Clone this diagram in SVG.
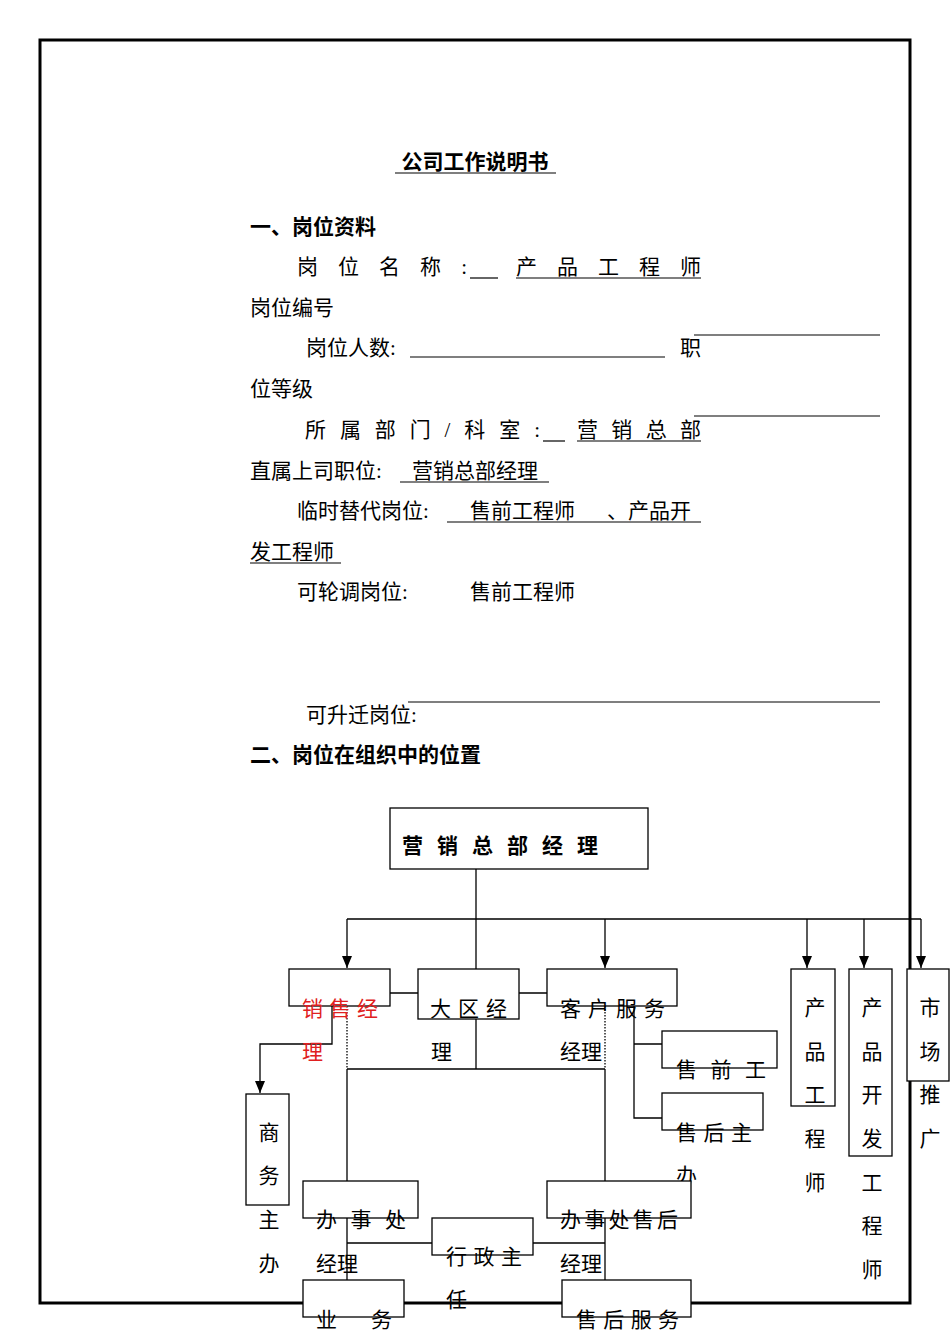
<svg xmlns="http://www.w3.org/2000/svg" width="950" height="1344" viewBox="0 0 950 1344">
<style>
text{font-family:"Liberation Serif","Noto Sans CJK SC",serif;font-size:21px;fill:#000}
.b{font-weight:bold;font-family:"Noto Sans CJK SC",sans-serif}
.bx{fill:#fff;stroke:#000;stroke-width:1.3}
.ln{stroke:#000;stroke-width:1.3;fill:none}
.u{stroke:#000;stroke-width:1.2}
.c{text-anchor:middle}
</style>
<defs><marker id="ar" markerWidth="10" markerHeight="10" refX="5" refY="9" orient="auto" markerUnits="userSpaceOnUse"><path d="M0,0 L10,0 L5,10Z" transform="rotate(-90 5 5)"/></marker>
<marker id="a" markerWidth="12" markerHeight="12" refX="6" refY="12" markerUnits="userSpaceOnUse" orient="0"><path d="M1,0 L11,0 L6,12Z"/></marker></defs>
<rect width="950" height="1344" fill="#fff"/>
<rect x="40" y="40" width="870" height="1263" fill="none" stroke="#000" stroke-width="3"/>
<g id="text">
<text x="475" y="169" class="b c" font-size="20">公司工作说明书</text>
<line x1="395" y1="173" x2="556" y2="173" class="u"/>
<text x="250" y="234" class="b">一、岗位资料</text>
<text x="297" y="274" textLength="170">岗 位 名 称 :</text>
<line x1="470" y1="278" x2="498" y2="278" class="u"/>
<text x="516" y="274" textLength="185">产 品 工 程 师</text>
<line x1="516" y1="278" x2="701" y2="278" class="u"/>
<text x="250" y="315">岗位编号</text>
<line x1="694" y1="335" x2="880" y2="335" class="u"/>
<text x="306" y="355">岗位人数:</text>
<line x1="410" y1="357" x2="665" y2="357" class="u"/>
<text x="680" y="355">职</text>
<text x="250" y="396">位等级</text>
<line x1="694" y1="416" x2="880" y2="416" class="u"/>
<text x="305" y="437" textLength="235">所 属 部 门 / 科 室 :</text>
<line x1="543" y1="441" x2="565" y2="441" class="u"/>
<text x="577" y="437" textLength="124">营 销 总 部</text>
<line x1="577" y1="441" x2="701" y2="441" class="u"/>
<text x="250" y="478">直属上司职位:</text>
<text x="412" y="478">营销总部经理</text>
<line x1="400" y1="482" x2="549" y2="482" class="u"/>
<text x="297" y="518">临时替代岗位:</text>
<text x="470" y="518">售前工程师</text>
<text x="607" y="518">、产品开</text>
<line x1="447" y1="522" x2="701" y2="522" class="u"/>
<text x="250" y="559">发工程师</text>
<line x1="250" y1="563" x2="341" y2="563" class="u"/>
<text x="297" y="599">可轮调岗位:</text>
<text x="470" y="599">售前工程师</text>
<line x1="408" y1="702" x2="880" y2="702" class="u"/>
<text x="306" y="722">可升迁岗位:</text>
<text x="250" y="762" class="b">二、岗位在组织中的位置</text>
</g>
<g id="connectors">
<path class="ln" d="M476,869 V969 M347,919 H921"/>
<path class="ln" d="M347,919 V968" marker-end="url(#a)"/>
<path class="ln" d="M605,919 V968" marker-end="url(#a)"/>
<path class="ln" d="M807,919 V968" marker-end="url(#a)"/>
<path class="ln" d="M864,919 V968" marker-end="url(#a)"/>
<path class="ln" d="M921,919 V968" marker-end="url(#a)"/>
<path class="ln" d="M390,993 H418 M519,993 H547"/>
<path class="ln" d="M332,1006 V1044 H260 V1093" marker-end="url(#a)"/>
<path class="ln" d="M347,1006 V1069" stroke-dasharray="1.5,1.5"/>
<path class="ln" d="M605,1006 V1069" stroke-dasharray="1.5,1.5"/>
<path class="ln" d="M347,1069 H605 M476,1019 V1069 M347,1069 V1181 M605,1069 V1181"/>
<path class="ln" d="M634,1006 V1118 H662 M634,1044 H662"/>
<path class="ln" d="M347,1218 V1280 M605,1218 V1280 M347,1243 H432 M533,1243 H605"/>
</g>
<g id="n-top"><rect class="bx" x="390" y="808" width="258" height="61"/><text x="402" y="853" class="b" textLength="196">营 销 总 部 经 理</text></g>
<g id="n-sales"><rect class="bx" x="289" y="969" width="101" height="37"/><text x="302" y="1016" fill="#e02020" style="fill:#e02020" textLength="76">销售经</text><text x="302" y="1059" style="fill:#e02020">理</text></g>
<g id="n-region"><rect class="bx" x="418" y="969" width="101" height="50"/><text x="430" y="1016" textLength="77">大区经</text><text x="431" y="1059">理</text></g>
<g id="n-cs"><rect class="bx" x="547" y="969" width="130" height="37"/><text x="560" y="1016" textLength="105">客户服务</text><text x="560" y="1059">经理</text></g>
<g id="n-biz"><rect class="bx" x="246" y="1094" width="43" height="111"/><text x="269" y="1140" class="c">商</text><text x="269" y="1183" class="c">务</text><text x="269" y="1227" class="c">主</text><text x="269" y="1271" class="c">办</text></g>
<g id="n-presale"><rect class="bx" x="662" y="1031" width="115" height="37"/><text x="676" y="1077" textLength="90">售 前 工</text><text x="676" y="1120">程师</text></g>
<g id="n-after"><rect class="bx" x="662" y="1093" width="101" height="37"/><text x="676" y="1140" textLength="76">售后主</text><text x="676" y="1183">办</text></g>
<g id="n-office"><rect class="bx" x="303" y="1181" width="115" height="37"/><text x="316" y="1227" textLength="90">办 事 处</text><text x="316" y="1271">经理</text></g>
<g id="n-officeafter"><rect class="bx" x="547" y="1181" width="144" height="37"/><text x="560" y="1227" textLength="118">办事处售后</text><text x="560" y="1271">经理</text></g>
<g id="n-admin"><rect class="bx" x="432" y="1218" width="101" height="37"/><text x="446" y="1264" textLength="76">行政主</text><text x="446" y="1307">任</text></g>
<g id="n-yw"><rect class="bx" x="303" y="1280" width="101" height="37"/><text x="316" y="1327" textLength="76">业　 务</text></g>
<g id="n-shfw"><rect class="bx" x="562" y="1280" width="129" height="37"/><text x="576" y="1327" textLength="103">售后服务</text></g>
<g id="n-pe"><rect class="bx" x="791" y="969" width="44" height="137"/><text x="815" y="1015" class="c">产</text><text x="815" y="1059" class="c">品</text><text x="815" y="1102" class="c">工</text><text x="815" y="1146" class="c">程</text><text x="815" y="1190" class="c">师</text></g>
<g id="n-pde"><rect class="bx" x="849" y="969" width="43" height="187"/><text x="872" y="1015" class="c">产</text><text x="872" y="1059" class="c">品</text><text x="872" y="1102" class="c">开</text><text x="872" y="1146" class="c">发</text><text x="872" y="1190" class="c">工</text><text x="872" y="1233" class="c">程</text><text x="872" y="1277" class="c">师</text></g>
<g id="n-mkt"><rect class="bx" x="907" y="969" width="42" height="112"/><text x="930" y="1015" class="c">市</text><text x="930" y="1059" class="c">场</text><text x="930" y="1102" class="c">推</text><text x="930" y="1146" class="c">广</text></g>
</svg>
